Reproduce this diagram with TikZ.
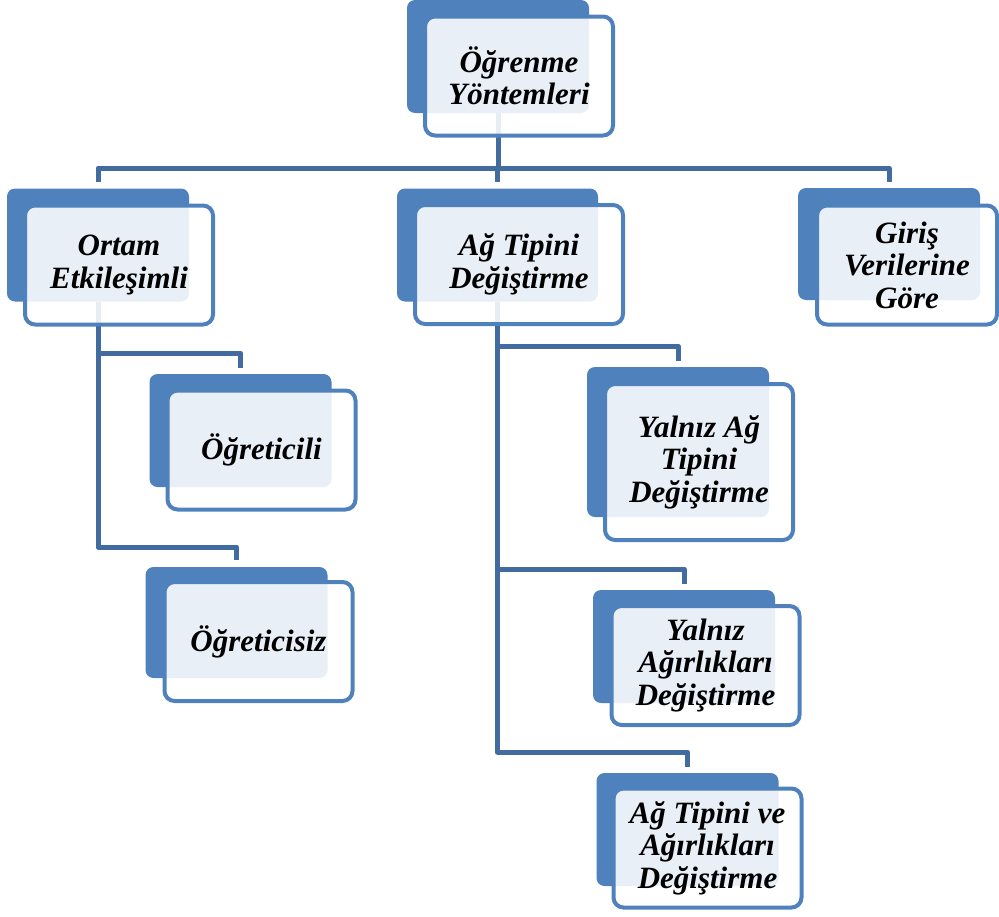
\documentclass[tikz,border=0pt]{standalone}
\usepackage{fontspec}
\setmainfont{Liberation Serif}
\usetikzlibrary{backgrounds}
\definecolor{boxblue}{RGB}{79,129,189}
\definecolor{linkblue}{RGB}{66,107,160}
\tikzset{
  backbox/.style={rectangle, rounded corners=8pt, fill=boxblue, draw=none,
    minimum width=182pt, minimum height=113pt, inner sep=0pt},
  frontbox/.style={rectangle, rounded corners=10pt, draw=boxblue, line width=4pt,
    fill=white, fill opacity=0.88, text opacity=1,
    minimum width=188pt, minimum height=119pt, inner sep=0pt, align=center,
    font=\fontsize{31}{32.5}\selectfont\bfseries\itshape},
  conn/.style={draw=linkblue, line width=5pt, line join=round},
}
\begin{document}
\begin{tikzpicture}[x=1pt,y=-1pt]
\useasboundingbox (0,0) rectangle (999,916);

% root
\node[backbox] (b1) at (498,56.5) {};
\node[frontbox] (f1) at (519,76) {Öğrenme\\Yöntemleri};

% first level
\node[backbox] (b2) at (98,245) {};
\node[frontbox] (f2) at (119,265) {Ortam\\Etkileşimli};

\node[backbox, minimum width=201pt] (b3) at (497.5,245) {};
\node[frontbox, minimum width=208pt] (f3) at (519,264.5) {Ağ Tipini\\Değiştirme};

\node[backbox, minimum height=112pt] (b4) at (889,244) {};
\node[frontbox, minimum width=180pt] (f4) at (907,265) {Giriş\\Verilerine\\Göre};

% children of Ortam Etkileşimli
\node[backbox] (b5) at (240.5,430.5) {};
\node[frontbox] (f5) at (261.5,450) {Öğreticili};

\node[backbox, minimum height=111pt] (b6) at (236.5,622.5) {};
\node[frontbox] (f6) at (258.5,641.5) {Öğreticisiz};

% children of Ağ Tipini Değiştirme
\node[backbox, minimum height=150pt] (b7) at (678,442) {};
\node[frontbox, minimum height=156pt] (f7) at (699,462) {Yalnız Ağ\\Tipini\\Değiştirme};

\node[backbox] (b8) at (684,646.5) {};
\node[frontbox] (f8) at (705.5,665.5) {Yalnız\\Ağırlıkları\\Değiştirme};

\node[backbox] (b9) at (687.5,829.5) {};
\node[frontbox] (f9) at (707.5,848) {Ağ Tipini ve\\Ağırlıkları\\Değiştirme};

% connectors, drawn underneath the boxes
\coordinate (busR) at (0,168);
\coordinate (busO1) at (0,353);
\coordinate (busO2) at (0,547);
\coordinate (busA1) at (0,346);
\coordinate (busA2) at (0,569);
\coordinate (busA3) at (0,752);
\begin{pgfonlayer}{background}
  \draw[conn] (b1.south) -- (b1.south |- busR) -| ([yshift=6pt]b2.north);
  \draw[conn] (b1.south) -- (b1.south |- busR) -| ([yshift=6pt]b3.north);
  \draw[conn] (b1.south) -- (b1.south |- busR) -| ([yshift=6pt]b4.north);
  \draw[conn] (b2.south) -- (b2.south |- busO1) -| ([yshift=6pt]b5.north);
  \draw[conn] (b2.south) -- (b2.south |- busO2) -| ([yshift=7pt]b6.north);
  \draw[conn] (b3.south) -- (b3.south |- busA1) -| ([yshift=6pt]b7.north);
  \draw[conn] (b3.south) -- (b3.south |- busA2) -| ([yshift=6pt]b8.north);
  \draw[conn] (b3.south) -- (b3.south |- busA3) -| ([yshift=6pt]b9.north);
\end{pgfonlayer}
\end{tikzpicture}
\end{document}
